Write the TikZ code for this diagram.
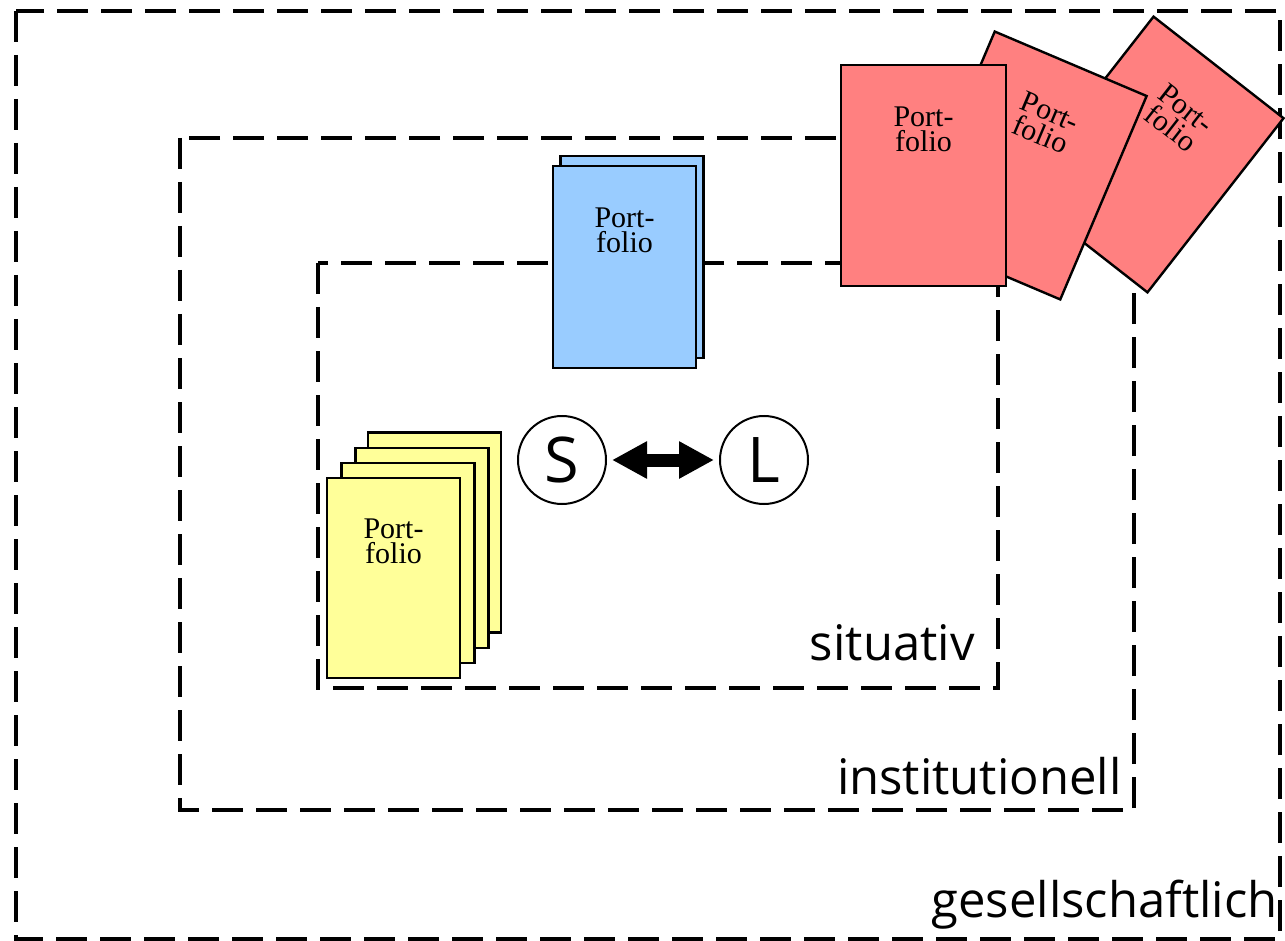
\documentclass[tikz,border=0pt]{standalone}
\usepackage{fontspec}
\setmainfont{Liberation Serif}
\newfontfamily\gothfont{Open Sans}
\usepackage{tikz}
\usetikzlibrary{arrows.meta,calc}
\definecolor{pfred}{RGB}{255,128,128}
\definecolor{pfblue}{RGB}{153,204,255}
\definecolor{pfyellow}{RGB}{255,255,153}

\begin{document}
\begin{tikzpicture}
	[
	 x = 0.5pt, y = -0.5pt,
	 ring/.style = {draw, line width = 1.8pt,
	                dash pattern = on 15.5pt off 6.5pt},
	 sheet/.style = {shape=rectangle,
	                 draw,
	                 line width = 1.2pt,
	                 inner sep = 0pt},
	 RS/.style = {sheet, fill=pfred, minimum width=82.5pt, minimum height=110.5pt},
	 BS/.style = {sheet, fill=pfblue, minimum width=71.5pt, minimum height=101pt},
	 YS/.style = {sheet, fill=pfyellow, minimum width=66.5pt, minimum height=100pt},
	 PT/.style = {anchor=north, align=center, inner sep=0pt,
	              font=\fontsize{15pt}{12.5pt}\selectfont},
	 LV/.style = {anchor=base east, inner sep=0pt,
	              font=\gothfont\fontsize{24.5pt}{29pt}\selectfont},
	 person/.style = {shape=circle, draw, line width=1pt,
	                  minimum size=44pt, inner sep=0pt,
	                  font=\gothfont\fontsize{31.5pt}{36pt}\selectfont},
	 dbl/.style = {line width=6.5pt,
	               {Triangle[length=17.5pt,width=17.5pt]}-{Triangle[length=17.5pt,width=17.5pt]},
	               shorten <=2.5pt, shorten >=2.5pt}
	]
	
	\newcommand{\PF}{Port-\\folio}
	\useasboundingbox (0,0) rectangle (1285,941);
	
	% the three levels
	\draw[ring] (16,11) rectangle (1280,939);
	\draw[ring] (180,138) rectangle (1134,810);
	\draw[ring] (318,263) rectangle (998,688);
	
	% red portfolios
	\node[RS, rotate=-38] (R3) at (1150.5,154.5) {};
	\node[PT, rotate=-38] (R3t) at ($(R3.north)!21.5pt!(R3.south)$) {\PF};
	\node[RS, rotate=-23] (R2) at (1027.5,165.5) {};
	\node[PT, rotate=-23] (R2t) at ($(R2.north)!21.5pt!(R2.south)$) {\PF};
	\node[RS] (R1) at (923.5,175.5) {};
	\node[PT] (R1t) at ($(R1.north)!21.5pt!(R1.south)$) {\PF};
	
	% blue portfolios
	\node[BS] (B1) at (632,257) {};
	\node[BS] (B2) at (624.5,267) {};
	\node[PT] (B2t) at ($(B2.north)!21.5pt!(B2.south)$) {\PF};
	
	% yellow portfolios
	\foreach \cx/\cy [count=\i] in {434.5/532.5, 422/548, 408/563}
		\node[YS] (Y\i) at (\cx,\cy) {};
	\node[YS] (Y4) at (393.5,578) {};
	\node[PT] (Y4t) at ($(Y4.north)!21pt!(Y4.south)$) {\PF};
	
	% S and L
	\node[person] (S) at (562,460) {S};
	\node[person] (L) at (764,460) {L};
	\draw[dbl] (S) -- (L);
	
	\node[LV] (lsit) at (975,660) {situativ};
	\node[LV] (linst) at (1122,794) {institutionell};
	\node[LV] (lges) at (1278,917) {gesellschaftlich};
\end{tikzpicture}
\end{document}
